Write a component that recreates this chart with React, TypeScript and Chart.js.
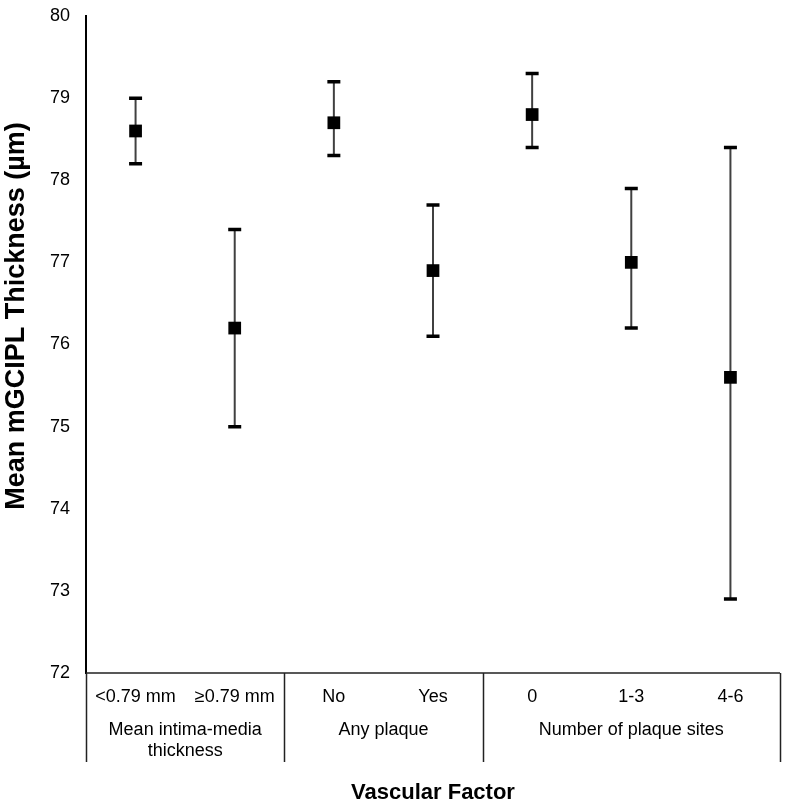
import React, { useEffect, useRef } from "react";
import { Chart, registerables } from "chart.js";

Chart.register(...registerables);

const categories = ["<0.79 mm", "≥0.79 mm", "No", "Yes", "0", "1-3", "4-6"];
const groupNames = [["Mean intima-media", "thickness"], ["Any plaque"], ["Number of plaque sites"]];
const groupSizes = [2, 2, 3];
const means = [78.6, 76.2, 78.7, 76.9, 78.8, 77.0, 75.6];
const lowers = [78.2, 75.0, 78.3, 76.1, 78.4, 76.2, 72.9];
const uppers = [79.0, 77.4, 79.2, 77.7, 79.3, 77.9, 78.4];
const yTicks = [72, 73, 74, 75, 76, 77, 78, 79, 80];

const FONT = "'Liberation Sans', Arial, sans-serif";

const customPlugin = {
  id: "custom",
  beforeDatasetsDraw(chart: any) {
    const ctx = chart.ctx;
    const xs = chart.scales.x;
    const ys = chart.scales.y;
    ctx.save();
    for (let i = 0; i < means.length; i++) {
      const px = xs.getPixelForValue(i + 0.5);
      const yl = ys.getPixelForValue(lowers[i]);
      const yu = ys.getPixelForValue(uppers[i]);
      ctx.strokeStyle = "#404040";
      ctx.lineWidth = 2;
      ctx.beginPath();
      ctx.moveTo(px, yu);
      ctx.lineTo(px, yl);
      ctx.stroke();
      ctx.strokeStyle = "#000";
      ctx.lineWidth = 3.5;
      ctx.beginPath();
      ctx.moveTo(px - 6.5, yu);
      ctx.lineTo(px + 6.5, yu);
      ctx.moveTo(px - 6.5, yl);
      ctx.lineTo(px + 6.5, yl);
      ctx.stroke();
    }
    ctx.restore();
  },
  afterDraw(chart: any) {
    const ctx = chart.ctx;
    const xs = chart.scales.x;
    const area = chart.chartArea;
    const bottom = area.bottom;
    ctx.save();
    ctx.strokeStyle = "#222";
    ctx.lineWidth = 1.5;
    ctx.beginPath();
    ctx.moveTo(area.left, bottom);
    ctx.lineTo(area.right, bottom);
    let idx = 0;
    const bounds = [0];
    for (const s of groupSizes) {
      idx += s;
      bounds.push(idx);
    }
    for (const b of bounds) {
      const px = Math.round(xs.getPixelForValue(b)) + 0.5;
      ctx.moveTo(px, bottom);
      ctx.lineTo(px, bottom + 89);
    }
    ctx.stroke();
    ctx.fillStyle = "#000";
    ctx.font = `18px ${FONT}`;
    ctx.textAlign = "center";
    ctx.textBaseline = "middle";
    categories.forEach((c, i) => {
      ctx.fillText(c, xs.getPixelForValue(i + 0.5), bottom + 24);
    });
    for (let g = 0; g < groupNames.length; g++) {
      const cx = (xs.getPixelForValue(bounds[g]) + xs.getPixelForValue(bounds[g + 1])) / 2;
      groupNames[g].forEach((line, k) => {
        ctx.fillText(line, cx, bottom + 57 + k * 21);
      });
    }
    ctx.font = `bold 22px ${FONT}`;
    ctx.fillText("Vascular Factor", (area.left + area.right) / 2, bottom + 120);
    ctx.font = `bold 27px ${FONT}`;
    ctx.translate(17, 316);
    ctx.rotate(-Math.PI / 2);
    ctx.fillText("Mean mGCIPL Thickness (µm)", 0, 0);
    ctx.restore();
  },
};

export default function App() {
  const ref = useRef<HTMLCanvasElement>(null);
  useEffect(() => {
    const chart = new Chart(ref.current!, {
      type: "scatter",
      data: {
        datasets: [
          {
            data: means.map((m, i) => ({ x: i + 0.5, y: m })),
            pointStyle: "rect",
            pointRadius: 9,
            pointHoverRadius: 9,
            backgroundColor: "#000",
            borderColor: "#000",
            borderWidth: 0,
          },
        ],
      },
      options: {
        animation: false,
        responsive: false,
        events: [],
        layout: { padding: { left: 0, top: 16, right: 8, bottom: 135 } },
        plugins: { legend: { display: false }, tooltip: { enabled: false } },
        scales: {
          x: {
            type: "linear",
            min: 0,
            max: 7,
            display: false,
          },
          y: {
            min: 72,
            max: 80,
            afterFit(scale: any) {
              scale.width = 86;
              scale.paddingTop = 0;
              scale.paddingBottom = 0;
            },
            afterBuildTicks(scale: any) {
              scale.ticks = yTicks.map((v) => ({ value: v }));
            },
            grid: { display: false, drawTicks: false },
            border: { display: true, color: "#000", width: 2 },
            ticks: {
              color: "#000",
              padding: 16,
              font: { family: FONT, size: 18 },
            },
          },
        },
      },
      plugins: [customPlugin],
    });
    return () => chart.destroy();
  }, []);
  return (
    <div style={{ position: "absolute", left: 0, top: 0, width: 789, height: 808, background: "#fff" }}>
      <canvas ref={ref} width={789} height={808} style={{ width: 789, height: 808 }} />
    </div>
  );
}
